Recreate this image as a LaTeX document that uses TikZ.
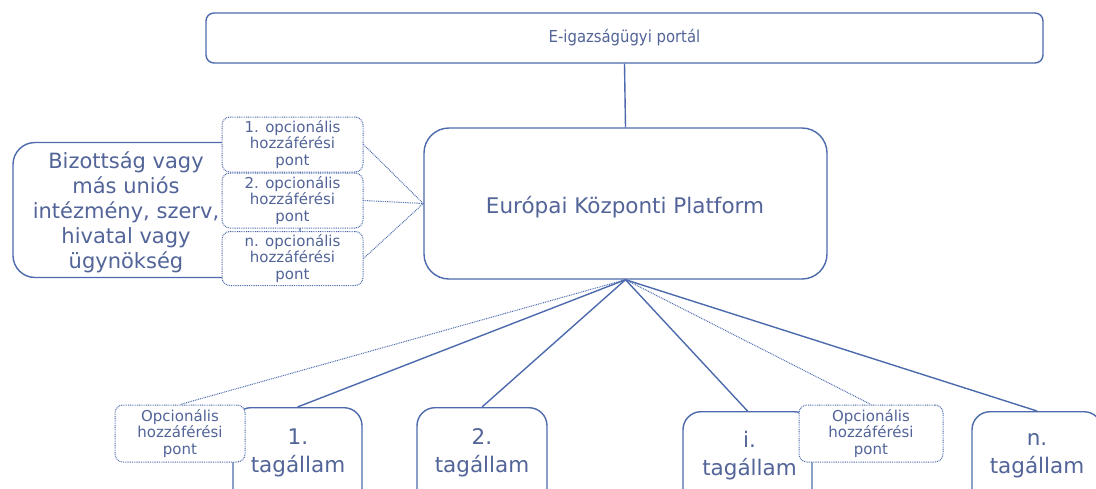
\documentclass[tikz,border=0pt]{standalone}
\usepackage{fontspec}
\setmainfont{DejaVu Sans}
\newfontfamily\condfont{DejaVu Sans Condensed}
\definecolor{ln}{RGB}{76,106,172}
\definecolor{tx}{RGB}{82,100,152}
\begin{document}
\begin{tikzpicture}[x=1pt,y=-1pt,
  solidbox/.style={draw=ln, line width=1.4pt, fill=white, inner sep=0pt, rectangle},
  dotbox/.style={draw=ln, line width=1pt, dash pattern=on 0.9pt off 0.9pt, fill=white, inner sep=0pt, rounded corners=8pt, rectangle, minimum width=141pt, text=tx, align=center, font=\fontsize{15}{16.5}\selectfont},
  conn/.style={draw=ln, line width=1.4pt},
  dotconn/.style={draw=ln, line width=1pt, dash pattern=on 0.9pt off 0.9pt},
  bigtext/.style={text=tx, align=center, inner sep=0pt, font=\fontsize{21.5}{28}\selectfont},
  lbltext/.style={text=tx, align=center, inner sep=0pt, font=\fontsize{21}{25}\selectfont}]
\useasboundingbox (0,0) rectangle (1096,488);
\clip (0,0) rectangle (1096,488);

% top portal
\node[solidbox, rounded corners=8pt, minimum width=837pt, minimum height=50pt, text=tx, font=\condfont\fontsize{16.5}{19}\selectfont] (portal) at (624.5,38) {E-igazságügyi portál};

% central platform
\node[solidbox, rounded corners=25pt, minimum width=403pt, minimum height=151pt] (cp) at (625.5,203.5) {};
\node[text=tx, inner sep=0pt, font=\fontsize{21.5}{25}\selectfont] (cpt) at (625,207) {Európai Központi Platform};

\draw[conn] (portal.south) -- (cp.north);

% left institution box
\node[solidbox, rounded corners=22pt, minimum width=287pt, minimum height=135pt] (inst) at (156.5,210) {};
\node[lbltext] (instt) at (126,212) {Bizottság vagy\\más uniós\\intézmény, szerv,\\hivatal vagy\\ügynökség};

% optional access points (left)
\node[dotbox, minimum height=55pt] (d1) at (292.5,144.5) {1. opcionális\\hozzáférési\\pont};
\node[dotbox, minimum height=55pt] (d2) at (292.5,200.5) {2. opcionális\\hozzáférési\\pont};
\node[dotbox, minimum height=54pt] (dn) at (292.5,258.5) {n. opcionális\\hozzáférési\\pont};

\draw[dotconn] (d1.east) -- (cp.west);
\draw[dotconn] (d2.east) -- (cp.west);
\draw[dotconn] (dn.east) -- (cp.west);

% member states
\node[solidbox, rounded corners=18pt, minimum width=129pt, minimum height=120pt, anchor=north] (m1) at (297.5,407) {};
\node[solidbox, rounded corners=18pt, minimum width=130pt, minimum height=120pt, anchor=north] (m2) at (482,407) {};
\node[solidbox, rounded corners=18pt, minimum width=129pt, minimum height=120pt, anchor=north] (mi) at (747.5,411) {};
\node[solidbox, rounded corners=18pt, minimum width=130pt, minimum height=120pt, anchor=north] (mn) at (1037,411) {};

\node[bigtext] (m1t) at (298,453) {1.\\tagállam};
\node[bigtext] (m2t) at (482,453) {2.\\tagállam};
\node[bigtext] (mit) at (749.5,456) {i.\\tagállam};
\node[bigtext] (mnt) at (1037,456) {n.\\tagállam};

% optional access points (bottom)
\node[dotbox, minimum width=130pt, minimum height=57pt] (o1) at (180,433.5) {Opcionális\\hozzáférési\\pont};
\node[dotbox, minimum width=144pt, minimum height=57pt] (oi) at (871,433.5) {Opcionális\\hozzáférési\\pont};

\coordinate (hub) at (cp.south);
\draw[conn] (hub) -- (m1.north);
\draw[conn] (hub) -- (m2.north);
\draw[conn] (hub) -- (mi.north);
\draw[conn] (hub) -- (mn.north);
\draw[dotconn] (hub) -- (o1.north);
\draw[dotconn] (hub) -- (oi.north);
\end{tikzpicture}
\end{document}
